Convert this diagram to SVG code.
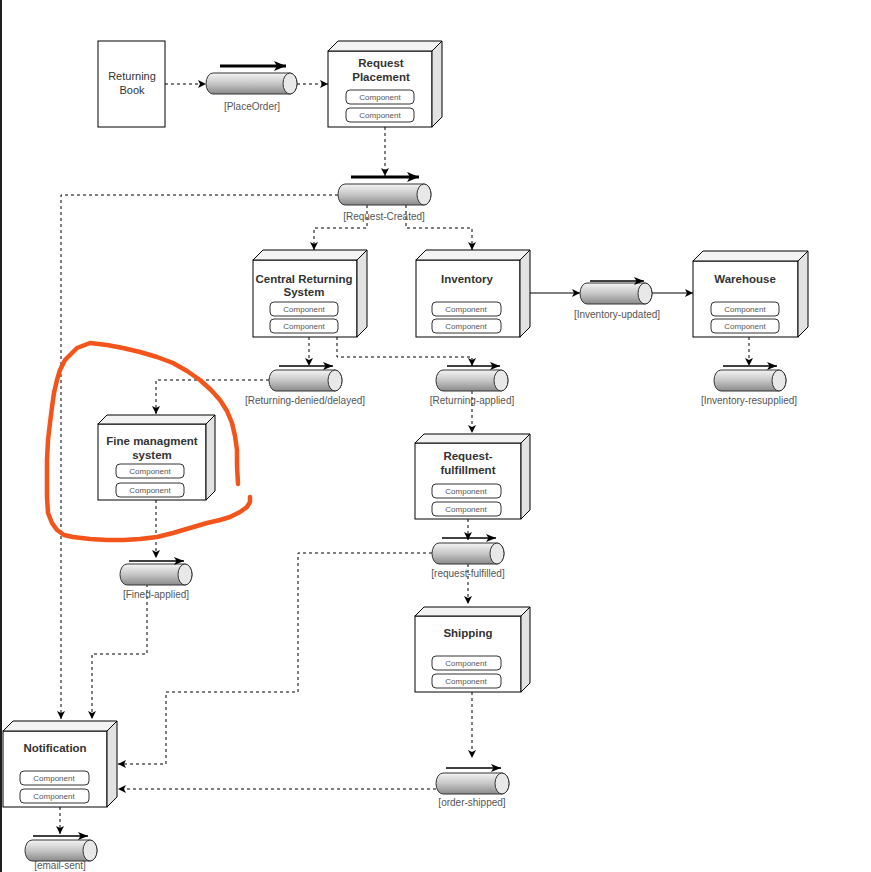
<svg xmlns="http://www.w3.org/2000/svg" width="871" height="872" viewBox="0 0 871 872">
<defs>
<linearGradient id="cyl" x1="0" y1="0" x2="0" y2="1">
<stop offset="0" stop-color="#f4f4f4"/>
<stop offset="0.5" stop-color="#c6c6c6"/>
<stop offset="1" stop-color="#8a8a8a"/>
</linearGradient>
<marker id="ah" viewBox="0 0 8 8" refX="8" refY="4" markerWidth="8" markerHeight="8" markerUnits="userSpaceOnUse" orient="auto"><path d="M0,0 L8,4 L0,8 L2,4 Z" fill="#000"/></marker>
<marker id="ah2" viewBox="0 0 12 10" refX="12" refY="5" markerWidth="12" markerHeight="10" markerUnits="userSpaceOnUse" orient="auto"><path d="M0,0 L12,5 L0,10 L3,5 Z" fill="#000"/></marker>
<marker id="ah3" viewBox="0 0 10 8" refX="10" refY="4" markerWidth="10" markerHeight="8" markerUnits="userSpaceOnUse" orient="auto"><path d="M0,0 L10,4 L0,8 L2.5,4 Z" fill="#000"/></marker>
</defs>
<style>
.front{fill:#fff;stroke:#000;stroke-width:1}
.top{fill:#f3f3f3;stroke:#000;stroke-width:1;stroke-linejoin:round}
.side{fill:#e2e2e2;stroke:#000;stroke-width:1;stroke-linejoin:round}
.comp{fill:#fff;stroke:#333;stroke-width:1}
.ct{font-family:"Liberation Sans",Arial,sans-serif;font-size:8px;fill:#555;text-anchor:middle}
.title{font-family:"Liberation Sans",Arial,sans-serif;font-size:11.5px;font-weight:bold;fill:#333;text-anchor:middle}
.plain{font-family:"Liberation Sans",Arial,sans-serif;font-size:11px;fill:#333;text-anchor:middle}
.lbl{font-family:"Liberation Sans",Arial,sans-serif;font-size:10px;fill:#555;text-anchor:middle}
.body{fill:url(#cyl);stroke:#333;stroke-width:1}
.cap{fill:#e8e8e8;stroke:#333;stroke-width:1}
.flow{stroke:#000;stroke-width:1.6;fill:none;marker-end:url(#ah3)}
.flowb{stroke:#000;stroke-width:3;fill:none;marker-end:url(#ah2)}
.dash{stroke:#000;stroke-width:1;stroke-dasharray:3 3;fill:none;marker-end:url(#ah)}
.solid{stroke:#000;stroke-width:1;fill:none;marker-end:url(#ah)}
</style>
<rect x="0" y="0" width="871" height="872" fill="#fff"/>
<rect x="0" y="0" width="2" height="872" fill="#1e1e1e"/>

<g id="connectors">
<path class="dash" d="M165,84 H206"/>
<path class="dash" d="M297,84 H328"/>
<path class="dash" d="M385,127 V176"/>
<path class="dash" d="M338,195 H61 V719"/>
<path class="dash" d="M367,205 V228 H314 V250"/>
<path class="dash" d="M406,205 V228 H472 V250"/>
<path class="solid" d="M529,293 H580"/>
<path class="solid" d="M652,293 H693"/>
<path class="dash" d="M749,337 V366"/>
<path class="dash" d="M309,337 V366"/>
<path class="dash" d="M337,337 V357 H472 V366"/>
<path class="dash" d="M269,380 H156 V414"/>
<path class="dash" d="M156,500 V558"/>
<path class="dash" d="M147,584 V654 H92 V719"/>
<path class="dash" d="M472,391 V433"/>
<path class="dash" d="M468,519 V540"/>
<path class="dash" d="M468,564 V604"/>
<path class="dash" d="M432,553 H298 V692 H166 V764 H118"/>
<path class="dash" d="M472,692 V758"/>
<path class="dash" d="M436,789 H118"/>
<path class="dash" d="M60,807 V834"/>
</g>

<g id="returning-book">
<rect x="98" y="41" width="67" height="86" fill="#fff" stroke="#000"/>
<text class="plain" x="132" y="80">Returning</text>
<text class="plain" x="132" y="94">Book</text>
</g>

<g id="place-order">
<path class="body" d="M213,73 H290 A7,10.5 0 0 1 290,94 H213 A7,10.5 0 0 1 213,73 Z"/>
<ellipse class="cap" cx="290" cy="83.5" rx="7" ry="10.5"/>
<line class="flowb" x1="220" y1="66" x2="286" y2="66"/>
<text class="lbl" x="252" y="110">[PlaceOrder]</text>
</g>

<g id="request-placement">
<rect class="front" x="328" y="51" width="104" height="76"/>
<polygon class="top" points="328,51 338,41 442,41 432,51"/>
<polygon class="side" points="432,51 442,41 442,117 432,127"/>
<text class="title" x="381" y="67">Request</text>
<text class="title" x="381" y="81">Placement</text>
<rect class="comp" x="346" y="90" width="68" height="14" rx="4"/>
<text class="ct" x="380" y="100">Component</text>
<rect class="comp" x="346" y="108" width="68" height="14" rx="4"/>
<text class="ct" x="380" y="118">Component</text>
</g>

<g id="request-created">
<path class="body" d="M345,184 H424 A7,10.5 0 0 1 424,205 H345 A7,10.5 0 0 1 345,184 Z"/>
<ellipse class="cap" cx="424" cy="194.5" rx="7" ry="10.5"/>
<line class="flowb" x1="351" y1="177" x2="419" y2="177"/>
<text class="lbl" x="384" y="220">[Request-Created]</text>
</g>

<g id="central-returning-system">
<rect class="front" x="253" y="260" width="104" height="77"/>
<polygon class="top" points="253,260 263,250 367,250 357,260"/>
<polygon class="side" points="357,260 367,250 367,327 357,337"/>
<text class="title" x="304" y="283">Central Returning</text>
<text class="title" x="304" y="296">System</text>
<rect class="comp" x="270" y="302" width="68" height="14" rx="4"/>
<text class="ct" x="304" y="312">Component</text>
<rect class="comp" x="270" y="319" width="68" height="14" rx="4"/>
<text class="ct" x="304" y="329">Component</text>
</g>

<g id="inventory">
<rect class="front" x="416" y="260" width="104" height="77"/>
<polygon class="top" points="416,260 426,250 530,250 520,260"/>
<polygon class="side" points="520,260 530,250 530,327 520,337"/>
<text class="title" x="467" y="283">Inventory</text>
<rect class="comp" x="432" y="302" width="69" height="14" rx="4"/>
<text class="ct" x="466" y="312">Component</text>
<rect class="comp" x="432" y="319" width="69" height="14" rx="4"/>
<text class="ct" x="466" y="329">Component</text>
</g>

<g id="inventory-updated">
<path class="body" d="M587,283 H645 A7,10.5 0 0 1 645,304 H587 A7,10.5 0 0 1 587,283 Z"/>
<ellipse class="cap" cx="645" cy="293.5" rx="7" ry="10.5"/>
<line class="flow" x1="590" y1="281" x2="644" y2="281"/>
<text class="lbl" x="617" y="318">[Inventory-updated]</text>
</g>

<g id="warehouse">
<rect class="front" x="693" y="261" width="105" height="76"/>
<polygon class="top" points="693,261 703,251 808,251 798,261"/>
<polygon class="side" points="798,261 808,251 808,327 798,337"/>
<text class="title" x="745" y="283">Warehouse</text>
<rect class="comp" x="711" y="302" width="68" height="14" rx="4"/>
<text class="ct" x="745" y="312">Component</text>
<rect class="comp" x="711" y="319" width="68" height="14" rx="4"/>
<text class="ct" x="745" y="329">Component</text>
</g>

<g id="inventory-resupplied">
<path class="body" d="M721,370 H779 A7,10.5 0 0 1 779,391 H721 A7,10.5 0 0 1 721,370 Z"/>
<ellipse class="cap" cx="779" cy="380.5" rx="7" ry="10.5"/>
<line class="flow" x1="723" y1="366" x2="777" y2="366"/>
<text class="lbl" x="749" y="404">[Inventory-resupplied]</text>
</g>

<g id="returning-denied-delayed">
<path class="body" d="M276,370 H335 A7,10.5 0 0 1 335,391 H276 A7,10.5 0 0 1 276,370 Z"/>
<ellipse class="cap" cx="335" cy="380.5" rx="7" ry="10.5"/>
<line class="flow" x1="279" y1="366" x2="333" y2="366"/>
<text class="lbl" x="305" y="404">[Returning-denied/delayed]</text>
</g>

<g id="returning-applied">
<path class="body" d="M443,370 H501 A7,10.5 0 0 1 501,391 H443 A7,10.5 0 0 1 443,370 Z"/>
<ellipse class="cap" cx="501" cy="380.5" rx="7" ry="10.5"/>
<line class="flow" x1="447" y1="366" x2="500" y2="366"/>
<text class="lbl" x="472" y="404">[Returning-applied]</text>
</g>

<g id="fine-management-system">
<rect class="front" x="98" y="424" width="108" height="76"/>
<polygon class="top" points="98,424 107,415 215,415 206,424"/>
<polygon class="side" points="206,424 215,415 215,491 206,500"/>
<text class="title" x="152" y="445">Fine managment</text>
<text class="title" x="152" y="459">system</text>
<rect class="comp" x="116" y="464" width="68" height="14" rx="4"/>
<text class="ct" x="150" y="474">Component</text>
<rect class="comp" x="116" y="483" width="68" height="14" rx="4"/>
<text class="ct" x="150" y="493">Component</text>
</g>

<g id="fined-applied">
<path class="body" d="M127,564 H185 A7,10.5 0 0 1 185,585 H127 A7,10.5 0 0 1 127,564 Z"/>
<ellipse class="cap" cx="185" cy="574.5" rx="7" ry="10.5"/>
<line class="flow" x1="129" y1="561" x2="184" y2="561"/>
<text class="lbl" x="156" y="598">[Fined-applied]</text>
</g>

<g id="request-fulfillment">
<rect class="front" x="415" y="443" width="106" height="76"/>
<polygon class="top" points="415,443 424,434 530,434 521,443"/>
<polygon class="side" points="521,443 530,434 530,510 521,519"/>
<text class="title" x="468" y="460">Request-</text>
<text class="title" x="468" y="474">fulfillment</text>
<rect class="comp" x="432" y="484" width="69" height="14" rx="4"/>
<text class="ct" x="466" y="494">Component</text>
<rect class="comp" x="432" y="502" width="69" height="14" rx="4"/>
<text class="ct" x="466" y="512">Component</text>
</g>

<g id="request-fulfilled">
<path class="body" d="M439,543 H497 A7,10.5 0 0 1 497,564 H439 A7,10.5 0 0 1 439,543 Z"/>
<ellipse class="cap" cx="497" cy="553.5" rx="7" ry="10.5"/>
<line class="flow" x1="442" y1="538" x2="496" y2="538"/>
<text class="lbl" x="468" y="577">[request-fulfilled]</text>
</g>

<g id="shipping">
<rect class="front" x="415" y="616" width="106" height="76"/>
<polygon class="top" points="415,616 424,607 530,607 521,616"/>
<polygon class="side" points="521,616 530,607 530,683 521,692"/>
<text class="title" x="468" y="637">Shipping</text>
<rect class="comp" x="432" y="656" width="69" height="14" rx="4"/>
<text class="ct" x="466" y="666">Component</text>
<rect class="comp" x="432" y="674" width="69" height="14" rx="4"/>
<text class="ct" x="466" y="684">Component</text>
</g>

<g id="order-shipped">
<path class="body" d="M443,773 H502 A7,10.5 0 0 1 502,794 H443 A7,10.5 0 0 1 443,773 Z"/>
<ellipse class="cap" cx="502" cy="783.5" rx="7" ry="10.5"/>
<line class="flow" x1="446" y1="768" x2="501" y2="768"/>
<text class="lbl" x="472" y="806">[order-shipped]</text>
</g>

<g id="notification">
<rect class="front" x="3" y="731" width="104" height="76"/>
<polygon class="top" points="3,731 13,721 117,721 107,731"/>
<polygon class="side" points="107,731 117,721 117,797 107,807"/>
<text class="title" x="55" y="752">Notification</text>
<rect class="comp" x="20" y="771" width="69" height="14" rx="4"/>
<text class="ct" x="54" y="781">Component</text>
<rect class="comp" x="20" y="789" width="69" height="14" rx="4"/>
<text class="ct" x="54" y="799">Component</text>
</g>

<g id="email-sent">
<path class="body" d="M32,840 H90 A7,10.5 0 0 1 90,861 H32 A7,10.5 0 0 1 32,840 Z"/>
<ellipse class="cap" cx="90" cy="850.5" rx="7" ry="10.5"/>
<line class="flow" x1="33" y1="836" x2="88" y2="836"/>
<text class="lbl" x="60" y="869">[email-sent]</text>
</g>

<polyline id="annotation" fill="none" stroke="#f2541b" stroke-width="4.5" stroke-linecap="round" stroke-linejoin="round" points="238,484 237,465 237,450 235,436 232,423 227,411 220,400 211,390 200,380 187,371 173,363 157,357 140,352 123,348 107,345 90,343 77,348 65,360 60,370 57,380 54,393 52,407 50,423 48,440 47,460 47,480 47,497 48,513 52,523 57,530 64,535 73,537 90,539 107,540 124,540 140,539 157,537 173,533 190,528 207,523 220,520 230,517 240,512 247,507 250,502 250,497"/>
</svg>
